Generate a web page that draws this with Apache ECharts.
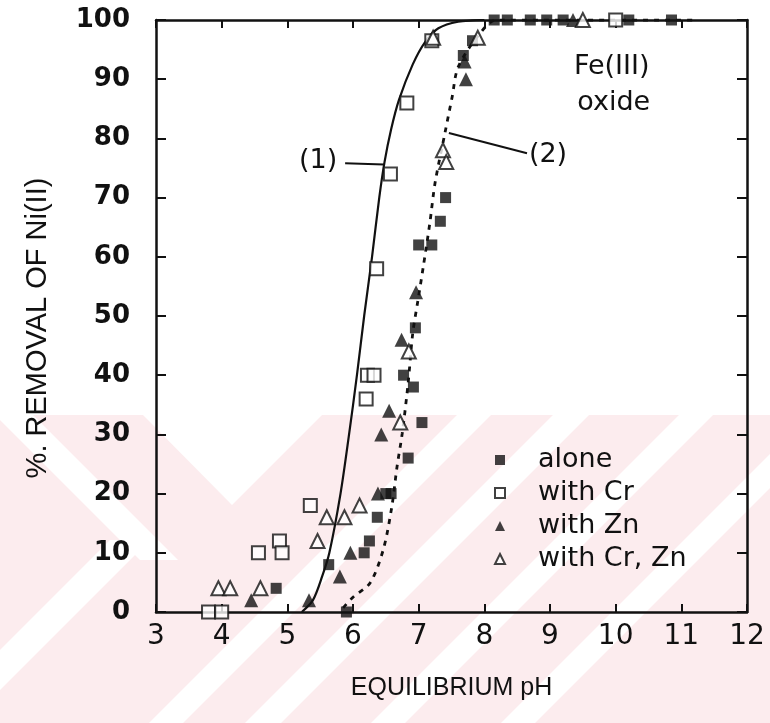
<!DOCTYPE html>
<html>
<head>
<meta charset="utf-8">
<script src="https://cdn.jsdelivr.net/npm/echarts@6/dist/echarts.min.js"></script>
<style>
  html, body { margin: 0; padding: 0; background: #ffffff; }
  #chart { width: 770px; height: 723px; }
</style>
</head>
<body>
<div id="chart"></div>
<script>
// Ni(II) removal on Fe(III) oxide versus equilibrium pH

const xTicks = [3, 4, 5, 6, 7, 8, 9, 10, 11, 12];
const yTicks = [0, 10, 20, 30, 40, 50, 60, 70, 80, 90, 100];

// [pH, % removal]
const alone = [
  [4.83, 4], [5.63, 8], [5.9, 0], [6.17, 10], [6.25, 12], [6.37, 16],
  [6.5, 20], [6.58, 20], [6.84, 26], [7.05, 32], [6.92, 38], [6.77, 40],
  [6.95, 48], [7.0, 62], [7.2, 62], [7.33, 66], [7.41, 70], [7.68, 94],
  [7.82, 96.5], [8.15, 100], [8.35, 100], [8.7, 100], [8.95, 100],
  [9.2, 100], [10.2, 100], [10.85, 100]
];
const withCr = [
  [3.8, 0], [4.0, 0], [4.56, 10], [4.88, 12], [4.92, 10], [5.35, 18],
  [6.2, 36], [6.22, 40], [6.32, 40], [6.36, 58], [6.57, 74], [6.82, 86],
  [7.2, 96.5], [10.0, 100]
];
const withZn = [
  [4.45, 2], [5.33, 2], [5.8, 6], [5.96, 10], [6.38, 20], [6.43, 30],
  [6.55, 34], [6.74, 46], [6.96, 54], [7.7, 93], [7.72, 90], [9.35, 100]
];
const withCrZn = [
  [3.95, 4], [4.13, 4], [4.59, 4], [5.46, 12], [5.6, 16], [5.87, 16],
  [6.1, 18], [6.72, 32], [6.85, 44], [7.37, 78], [7.42, 76], [7.22, 97],
  [7.9, 97], [9.5, 100]
];

// fitted curves: (1) solid, (2) dotted
const curve1 = [
  [5.22, 0], [5.39, 2], [5.53, 6], [5.64, 10], [5.81, 20], [5.94, 30],
  [6.06, 40], [6.17, 50], [6.29, 60], [6.4, 70], [6.48, 76], [6.58, 81.5],
  [6.7, 86.5], [6.91, 92.5], [7.1, 96.3], [7.3, 98.6], [7.6, 99.7], [8.0, 100]
];
const curve2 = [
  [5.85, 0.7], [6.0, 2.5], [6.26, 4.9], [6.46, 10.5], [6.59, 17.7],
  [6.67, 24.5], [6.75, 30.2], [6.84, 38.7], [6.91, 47.1], [6.99, 52.7],
  [7.07, 58.3], [7.17, 65.7], [7.25, 72.5], [7.4, 80.9], [7.51, 87],
  [7.6, 92], [7.89, 97.1], [8.19, 100], [11.2, 100]
];

// text annotations, placed in data units
const notes = [
  { text: '(1)', at: [5.47, 76.2] },
  { text: '(2)', at: [8.97, 77.2] },
  { text: 'Fe(III)', at: [9.94, 92] },
  { text: 'oxide', at: [9.97, 86] }
];
const leaders = [
  [[5.88, 75.8], [6.47, 75.6]],
  [[8.65, 77.5], [7.46, 80.9]]
];

const ink = '#111111';
const sans = 'DejaVu Sans';

// faint pink chevron stamp in the lower part of the page
const stampColor = '#fcecee';
function slashBand(c1, c2, y1, y2) { // band between x+y=c1 and x+y=c2
  return [[c1 - y1, y1], [c2 - y1, y1], [c2 - y2, y2], [c1 - y2, y2]];
}
function backBand(d1, d2, y1, y2) { // band between x-y=d1 and x-y=d2
  return [[y1 + d1, y1], [y1 + d2, y1], [y2 + d2, y2], [y2 + d1, y2]];
}
const stampTop = 415, stampBottom = 723;
const whiteShapes = [
  [[143, stampTop], [322, stampTop], [232, 505]],
  backBand(-420, -382, stampTop, 560),
  slashBand(650, 690, 540, stampBottom),
  slashBand(872, 906, stampTop, stampBottom),
  slashBand(968, 1004, stampTop, stampBottom),
  slashBand(1094, 1128, stampTop, stampBottom),
  slashBand(1224, 1258, stampTop, stampBottom)
];
const stamp = [{
  type: 'rect', z: -10, silent: true,
  shape: { x: 0, y: stampTop, width: 770, height: stampBottom - stampTop },
  style: { fill: stampColor }
}].concat(whiteShapes.map(pts => ({
  type: 'polygon', z: -9, silent: true,
  shape: { points: pts }, style: { fill: '#ffffff' }
})));

const chart = echarts.init(document.getElementById('chart'), null, { renderer: 'canvas' });

function frameAxis(base) {
  return Object.assign({
    type: 'value',
    splitLine: { show: false },
    axisLine: { show: true, onZero: false, lineStyle: { color: ink, width: 2.5 } },
    axisTick: { show: true, inside: true, length: 10, lineStyle: { color: ink, width: 2 } }
  }, base);
}

const scatterBase = { type: 'scatter', z: 5 };
const openStyle = { color: '#ffffff', borderColor: ink, borderWidth: 2 };
const fillStyle = { color: ink };

chart.setOption({
  animation: false,
  backgroundColor: 'transparent',
  graphic: stamp,
  grid: { left: 156, right: 23, top: 20, bottom: 111 },
  xAxis: [
    frameAxis({
      min: xTicks[0], max: xTicks[xTicks.length - 1], interval: 1, position: 'bottom',
      axisTick: { show: true, inside: true, length: 8, lineStyle: { color: ink, width: 2 } },
      axisLabel: { margin: 11, color: ink, fontFamily: sans, fontSize: 28 }
    }),
    frameAxis({
      min: xTicks[0], max: xTicks[xTicks.length - 1], interval: 1, position: 'top',
      axisTick: { show: true, inside: true, length: 8, lineStyle: { color: ink, width: 2 } },
      axisLabel: { show: false }
    })
  ],
  yAxis: [
    frameAxis({
      min: yTicks[0], max: yTicks[yTicks.length - 1], interval: 10, position: 'left',
      axisLabel: { margin: 26, color: ink, fontFamily: sans, fontWeight: 'bold', fontSize: 26 }
    }),
    frameAxis({
      min: yTicks[0], max: yTicks[yTicks.length - 1], interval: 10, position: 'right',
      axisLabel: { show: false }
    })
  ],
  legend: {
    orient: 'vertical', left: 489, top: 441,
    itemWidth: 10, itemHeight: 10, itemGap: 5,
    selectedMode: false,
    data: ['alone', 'with Cr', 'with Zn', 'with Cr, Zn'],
    textStyle: { fontFamily: sans, fontSize: 27, lineHeight: 28, color: ink, padding: [0, 0, 0, 28] }
  },
  series: [
    {
      name: 'curve (1)', type: 'line', data: curve1, smooth: 0.3,
      showSymbol: false, z: 3, silent: true,
      lineStyle: { color: ink, width: 2.2, type: 'solid' }
    },
    {
      name: 'curve (2)', type: 'line', data: curve2, smooth: 0.3,
      showSymbol: false, z: 3, silent: true,
      lineStyle: { color: ink, width: 2.8, type: [5, 6] }
    },
    Object.assign({ name: 'alone', data: alone, symbol: 'rect', symbolSize: 11, itemStyle: fillStyle }, scatterBase),
    Object.assign({ name: 'with Cr', data: withCr, symbol: 'rect', symbolSize: 13, itemStyle: openStyle }, scatterBase),
    Object.assign({ name: 'with Zn', data: withZn, symbol: 'triangle', symbolSize: 14, itemStyle: fillStyle }, scatterBase),
    Object.assign({ name: 'with Cr, Zn', data: withCrZn, symbol: 'triangle', symbolSize: 14, itemStyle: openStyle }, scatterBase)
  ]
});

// axis titles, curve labels and leader lines
function toPx(pt) { return chart.convertToPixel({ xAxisIndex: 0, yAxisIndex: 0 }, pt); }
const grid = { left: 156, top: 20, right: 770 - 23, bottom: 723 - 111 };
const extra = [];
notes.forEach(n => {
  const p = toPx(n.at);
  extra.push({
    type: 'text', z: 10, x: p[0], y: p[1],
    style: { text: n.text, fill: ink, font: '27px "' + sans + '"', textAlign: 'center', textVerticalAlign: 'middle' }
  });
});
leaders.forEach(seg => {
  const a = toPx(seg[0]), b = toPx(seg[1]);
  extra.push({
    type: 'line', z: 10,
    shape: { x1: a[0], y1: a[1], x2: b[0], y2: b[1] },
    style: { stroke: ink, lineWidth: 2 }
  });
});
extra.push({
  type: 'text', z: 10, x: (grid.left + grid.right) / 2, y: 688,
  style: { text: 'EQUILIBRIUM pH', fill: ink, font: '25px "Liberation Sans"', textAlign: 'center', textVerticalAlign: 'middle' }
});
extra.push({
  type: 'text', z: 10, x: 38, y: 328, rotation: Math.PI / 2,
  style: { text: '%. REMOVAL OF Ni(II)', fill: ink, font: '29px "Liberation Sans"', textAlign: 'center', textVerticalAlign: 'middle' }
});
chart.setOption({ graphic: stamp.concat(extra) });
</script>
</body>
</html>
